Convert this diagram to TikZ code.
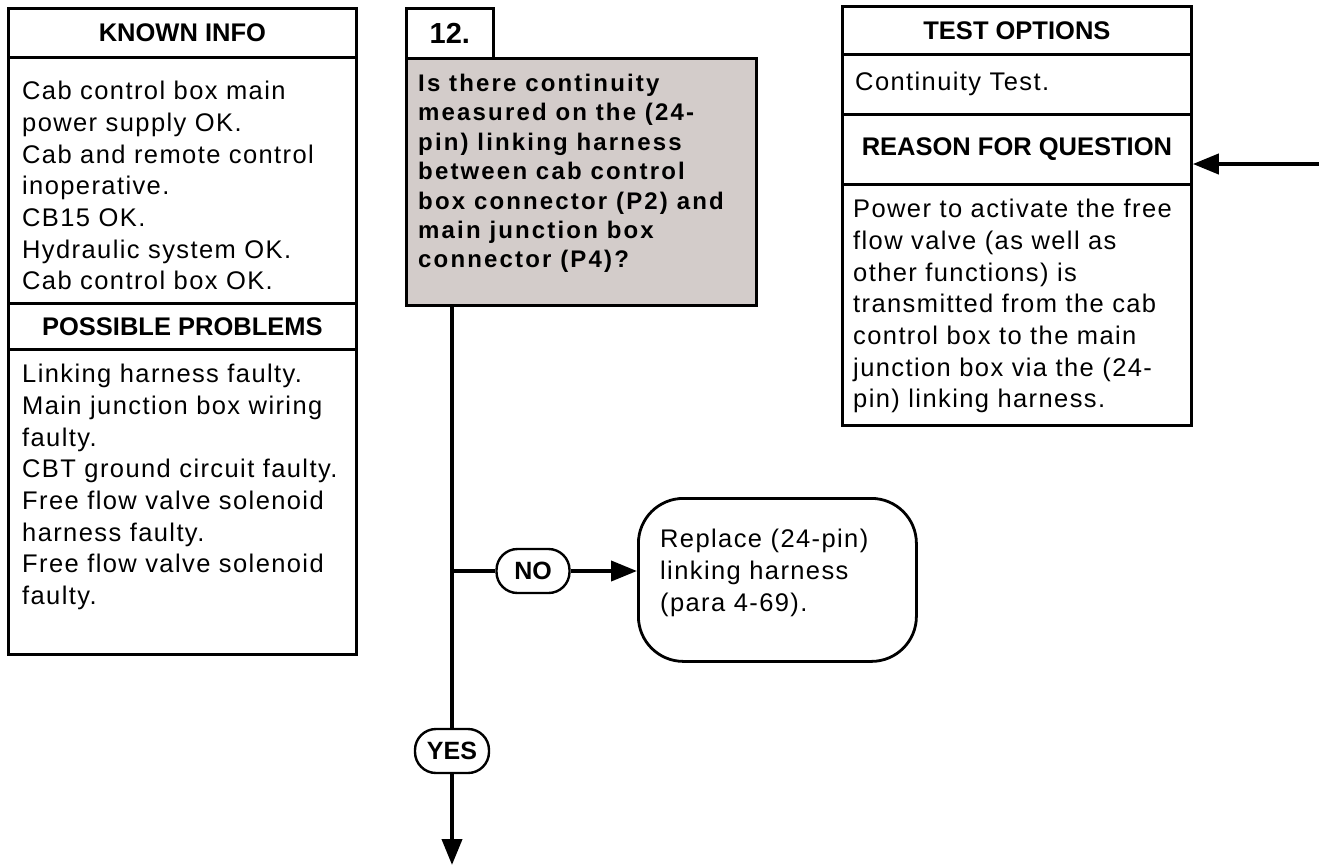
\documentclass[tikz,border=0pt]{standalone}
\usepackage{fontspec}
\setmainfont{Liberation Sans}
\newfontfamily\bodyf[LetterSpace=5.5]{Liberation Sans}
\newfontfamily\qf[LetterSpace=9]{Liberation Sans}
\usetikzlibrary{arrows.meta}
\definecolor{qgray}{RGB}{211,204,202}
\begin{document}
\begin{tikzpicture}[x=1pt,y=-1pt,
  frame/.style={draw, line width=2.8pt, inner sep=0pt, anchor=north west},
  hdr/.style={font=\fontsize{25.5}{30}\selectfont\bfseries, inner sep=0pt},
  body/.style={font=\bodyf\fontsize{25.5}{31.7}\selectfont, align=left, anchor=north west, inner sep=0pt},
  qtext/.style={font=\qf\fontsize{24}{29.4}\selectfont\bfseries, align=left, anchor=north west, inner sep=0pt},
  pill/.style={draw, line width=2.4pt, rounded corners=21pt, minimum width=73pt, minimum height=44pt, inner sep=0pt, font=\fontsize{25}{28}\selectfont\bfseries, fill=white},
  flow/.style={line width=4pt},
  tip/.style={-{Triangle[length=26pt,width=20pt]}}
]
\useasboundingbox (0,0) rectangle (1319,865);

% left column
\node[frame, minimum width=348pt, minimum height=49pt] (kih) at (7,7) {};
\node[hdr] (kiht) at (kih.center) {KNOWN INFO};
\node[frame, minimum width=348pt, minimum height=246pt] (kib) at (7,56) {};
\node[body] (kibt) at (22,81) {Cab control box main\\power supply OK.\\Cab and remote control\\inoperative.\\CB15 OK.\\Hydraulic system OK.\\Cab control box OK.};
\node[frame, minimum width=348pt, minimum height=46pt] (pph) at (7,302) {};
\node[hdr] (ppht) at (pph.center) {POSSIBLE PROBLEMS};
\node[frame, minimum width=348pt, minimum height=305pt] (ppb) at (7,348) {};
\node[body] (ppbt) at (22,364) {Linking harness faulty.\\Main junction box wiring\\faulty.\\CBT ground circuit faulty.\\Free flow valve solenoid\\harness faulty.\\Free flow valve solenoid\\faulty.};

% question
\node[frame, minimum width=87pt, minimum height=50pt] (num) at (405,7) {};
\node[hdr, font=\fontsize{29}{32}\selectfont\bfseries] (numt) at (num.center) {12.};
\node[frame, fill=qgray, minimum width=350pt, minimum height=247pt] (q) at (405,57) {};
\node[qtext] (qt) at (418,74) {Is there continuity\\measured on the (24-\\pin) linking harness\\between cab control\\box connector (P2) and\\main junction box\\connector (P4)?};

% right column
\node[frame, minimum width=349pt, minimum height=48pt] (toh) at (841,5) {};
\node[hdr] (toht) at (toh.center) {TEST OPTIONS};
\node[frame, minimum width=349pt, minimum height=60pt] (tob) at (841,53) {};
\node[body, anchor=west] (tobt) at (855,84) {Continuity Test.};
\node[frame, minimum width=349pt, minimum height=70pt] (rqh) at (841,113) {};
\node[hdr] (rqht) at (rqh.center) {REASON FOR QUESTION};
\node[frame, minimum width=349pt, minimum height=241pt] (rqb) at (841,183) {};
\node[body] (rqbt) at (853,199) {Power to activate the free\\flow valve (as well as\\other functions) is\\transmitted from the cab\\control box to the main\\junction box via the (24-\\pin) linking harness.};

% result box
\node[draw, line width=2.8pt, rounded corners=45pt, anchor=north west, minimum width=278pt, minimum height=163pt, inner sep=0pt] (rb) at (637,497) {};
\node[body] (rbt) at (660,529) {Replace (24-pin)\\linking harness\\(para 4-69).};

% pills
\node[pill] (no) at (533,571) {NO};
\node[pill, minimum width=74pt] (yes) at (452,751) {YES};
\coordinate (j) at (452,571);
\coordinate (endc) at (452,865);
\coordinate (rs) at (1319,164);

% connectors
\draw[flow] (q.south -| yes.north) -- (yes.north);
\draw[flow] (j) -- (no.west);
\draw[flow, tip] (no.east) -- (rb.west |- no.east);
\draw[flow, tip] (yes.south) -- (endc);
\draw[flow, tip] (rs) -- (rs -| rqh.east);
\end{tikzpicture}
\end{document}
